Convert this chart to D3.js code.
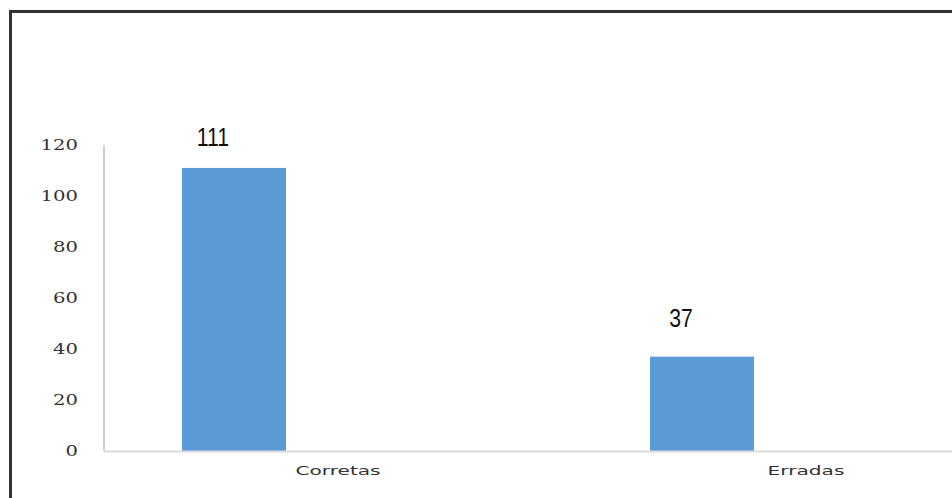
<!DOCTYPE html>
<html>
<head>
<meta charset="utf-8">
<script src="https://cdn.jsdelivr.net/npm/d3@7"></script>
<style>
  html, body { margin: 0; padding: 0; background: #fff; }
  svg { display: block; }
</style>
</head>
<body>
<svg id="chart" width="952" height="498"></svg>
<script>
const categories = ["Corretas", "Erradas"];
const seriesNames = ["S1", "S2", "S3"];
const values = [111, 37];
const yTicks = [0, 20, 40, 60, 80, 100, 120];

(function () {
const svg = d3.select("#chart");
const W = 952, H = 498;

// frame
svg.append("path")
  .attr("d", `M10.5,498 L10.5,11.5 L952,11.5`)
  .attr("fill", "none").attr("stroke", "#333").attr("stroke-width", 3);

const pLeft = 104, pRight = 1040, pTop = 145, pBottom = 451;

const x0 = d3.scaleBand().domain(categories).range([pLeft, pRight])
  .paddingInner(1/3).paddingOuter(1/6);
const x1 = d3.scaleBand().domain(seriesNames).range([0, x0.bandwidth()]);
const y = d3.scaleLinear().domain([0, 120]).range([pBottom, pTop]);

// y axis line
svg.append("line").attr("x1", pLeft).attr("x2", pLeft).attr("y1", y(120)).attr("y2", y(0))
  .attr("stroke", "#bfbfbf").attr("stroke-width", 1.5);

// y tick labels
const yAxis = d3.axisLeft(y).tickValues(yTicks).tickSize(0).tickPadding(0);
const gy = svg.append("g").attr("transform", `translate(${pLeft - 26},0)`).call(yAxis);
gy.select(".domain").remove();
gy.selectAll("text")
  .attr("font-family", "DejaVu Serif")
  .attr("font-size", 14)
  .attr("fill", "#333")
  .attr("x", 0)
  .attr("transform", "scale(1.4,1)")
  .attr("dy", "0.35em");

// bars
svg.append("g").selectAll("rect").data(categories).join("rect")
  .attr("x", (d) => x0(d) + x1("S1"))
  .attr("width", x1.bandwidth())
  .attr("y", (d, i) => y(values[i]))
  .attr("height", (d, i) => y(0) - y(values[i]))
  .attr("fill", "#5b9bd5");

// x axis line
svg.append("line").attr("x1", pLeft).attr("x2", W).attr("y1", y(0) + 0.5).attr("y2", y(0) + 0.5)
  .attr("stroke", "#d9d9d9").attr("stroke-width", 2);

// category labels
svg.append("g").selectAll("text").data(categories).join("text")
  .attr("transform", (d) => `translate(${x0(d) + x0.bandwidth() / 2},475) scale(1.55,1)`)
  .attr("text-anchor", "middle")
  .attr("font-family", "DejaVu Sans")
  .attr("font-size", 13)
  .attr("fill", "#333")
  .text((d) => d);

// value labels
svg.append("g").selectAll("text").data(categories).join("text")
  .attr("transform", (d, i) => `translate(${x0(d) + x1("S1") + x1.bandwidth() / 2 - 21},${y(values[i]) - (i === 0 ? 22 : 30)}) scale(0.85,1)`)
  .attr("text-anchor", "middle")
  .attr("font-family", "Liberation Sans")
  .attr("font-size", 25)
  .attr("fill", "#111")
  .text((d, i) => values[i]);
})();
</script>
</body>
</html>
